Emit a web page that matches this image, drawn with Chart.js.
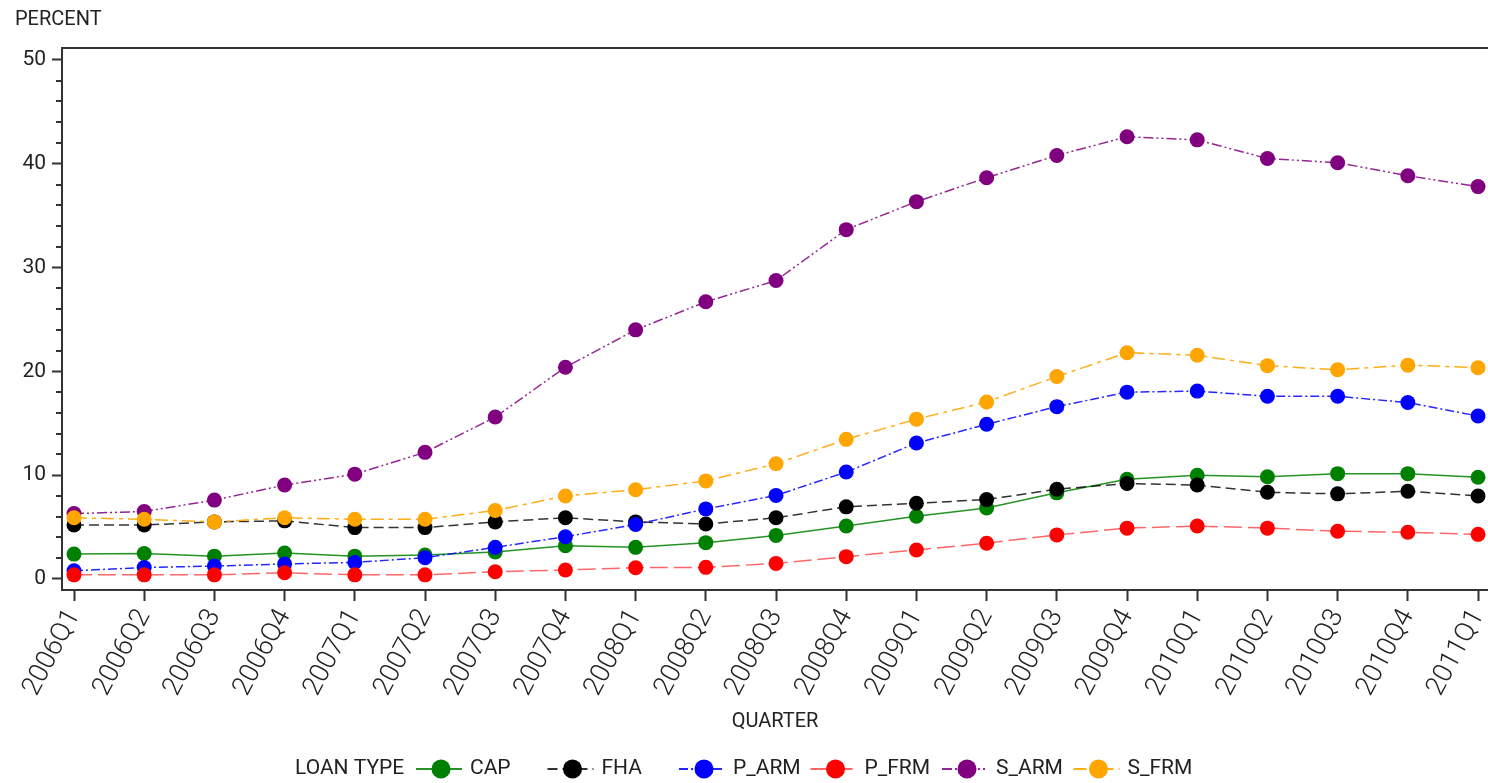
<!DOCTYPE html>
<html>
<head>
<meta charset="utf-8">
<title>Loan delinquency by type</title>
<script src="https://cdn.jsdelivr.net/npm/chart.js@4.4.1/dist/chart.umd.min.js"></script>
<style>
  html, body { margin: 0; padding: 0; background: #fff; }
  #wrap { width: 1488px; height: 783px; position: relative; }
</style>
</head>
<body>
<div id="wrap"><canvas id="c"></canvas></div>
<script>
// Quarterly percentages by loan type
const quarters = ["2006Q1","2006Q2","2006Q3","2006Q4","2007Q1","2007Q2","2007Q3","2007Q4",
  "2008Q1","2008Q2","2008Q3","2008Q4","2009Q1","2009Q2","2009Q3","2009Q4",
  "2010Q1","2010Q2","2010Q3","2010Q4","2011Q1"];

const cap   = [2.4, 2.45, 2.2, 2.5, 2.2, 2.3, 2.6, 3.2, 3.05, 3.5, 4.2, 5.1, 6.05, 6.85, 8.3, 9.6, 10.0, 9.85, 10.15, 10.15, 9.8];
const fha   = [5.2, 5.2, 5.5, 5.6, 4.95, 4.95, 5.5, 5.9, 5.5, 5.3, 5.9, 6.95, 7.3, 7.65, 8.65, 9.2, 9.05, 8.35, 8.2, 8.45, 8.0];
const pArm  = [0.8, 1.1, 1.25, 1.45, 1.6, 2.05, 3.05, 4.07, 5.25, 6.75, 8.05, 10.3, 13.1, 14.9, 16.6, 18.0, 18.1, 17.6, 17.6, 17.0, 15.7];
const pFrm  = [0.4, 0.4, 0.4, 0.6, 0.4, 0.4, 0.7, 0.87, 1.09, 1.12, 1.5, 2.15, 2.8, 3.45, 4.25, 4.9, 5.1, 4.9, 4.6, 4.5, 4.3];
const sArm  = [6.3, 6.5, 7.6, 9.05, 10.1, 12.2, 15.6, 20.4, 24.0, 26.7, 28.75, 33.65, 36.35, 38.65, 40.8, 42.6, 42.3, 40.5, 40.1, 38.85, 37.8];
const sFrm  = [5.9, 5.75, 5.5, 5.9, 5.75, 5.75, 6.6, 8.0, 8.6, 9.45, 11.1, 13.45, 15.4, 17.05, 19.5, 21.8, 21.55, 20.55, 20.15, 20.6, 20.35];

const yMajorTicks = [0, 10, 20, 30, 40, 50];

const FONT = "Roboto, 'Liberation Sans', Arial, sans-serif";
const TEXT = '#222';
const AXIS = '#333';

function series(label, values, color, lineColor, dash, order) {
  return {
    label,
    data: values.map((v, i) => ({ x: i, y: v })),
    borderColor: lineColor,
    backgroundColor: color,
    borderWidth: 1.5,
    borderDash: dash,
    pointRadius: 7.5,
    pointHoverRadius: 7.5,
    pointBorderWidth: 0,
    pointBackgroundColor: color,
    tension: 0,
    order
  };
}

const datasets = [
  series('CAP',   cap,  '#008000', 'rgba(0,128,0,0.85)',   [],                  6),
  series('FHA',   fha,  '#000000', 'rgba(0,0,0,0.8)',      [10, 5],             5),
  series('P_ARM', pArm, '#0000ff', 'rgba(0,0,255,0.85)',   [9, 3, 2, 3],        4),
  series('P_FRM', pFrm, '#ff0000', 'rgba(255,0,0,0.6)',    [18, 6],             3),
  series('S_ARM', sArm, '#800080', 'rgba(128,0,128,0.85)', [10, 3, 2, 3, 2, 3], 2),
  series('S_FRM', sFrm, '#ffa500', 'rgba(255,165,0,0.9)',  [13, 5, 4, 5],       1)
];

// Frame top edge and the short minor ticks on the value axis
const framePlugin = {
  id: 'frame',
  afterDraw(chart) {
    const { ctx, chartArea } = chart;
    const y = chart.scales.y;
    ctx.save();
    ctx.strokeStyle = AXIS;
    ctx.lineWidth = 2;
    ctx.beginPath();
    ctx.moveTo(chartArea.left - 1, chartArea.top);
    ctx.lineTo(chartArea.right, chartArea.top);
    ctx.stroke();
    for (let v = 2; v < 50; v += 2) {
      if (v % 10 === 0) continue;
      const py = Math.round(y.getPixelForValue(v));
      ctx.beginPath();
      ctx.moveTo(chartArea.left - 6, py);
      ctx.lineTo(chartArea.left, py);
      ctx.stroke();
    }
    ctx.restore();
  }
};

// Single-row legend with a leading caption
const legendPlugin = {
  id: 'loanLegend',
  afterDraw(chart) {
    const { ctx } = chart;
    const cy = 769;
    ctx.save();
    ctx.font = "21px " + FONT;
    ctx.fillStyle = TEXT;
    ctx.textBaseline = 'middle';
    ctx.textAlign = 'left';
    ctx.fillText('LOAN TYPE', 295, cy);
    chart.data.datasets.forEach((ds, i) => {
      const mx = 441 + i * 131.5;
      ctx.strokeStyle = ds.borderColor;
      ctx.lineWidth = 2;
      ctx.setLineDash(ds.borderDash);
      ctx.beginPath();
      ctx.moveTo(mx - 25, cy);
      ctx.lineTo(mx + 21, cy);
      ctx.stroke();
      ctx.setLineDash([]);
      ctx.fillStyle = ds.pointBackgroundColor;
      ctx.beginPath();
      ctx.arc(mx, cy, 9.5, 0, Math.PI * 2);
      ctx.fill();
      ctx.fillStyle = TEXT;
      ctx.fillText(ds.label, mx + 29, cy);
    });
    ctx.restore();
  }
};

new Chart(document.getElementById('c'), {
  type: 'line',
  data: { datasets },
  plugins: [framePlugin, legendPlugin],
  options: {
    responsive: true,
    maintainAspectRatio: false,
    animation: false,
    events: [],
    layout: { autoPadding: false, padding: { left: 15, right: 0, top: 0, bottom: 49 } },
    plugins: {
      legend: { display: false },
      tooltip: { enabled: false },
      title: {
        display: true,
        text: 'PERCENT',
        align: 'start',
        color: TEXT,
        font: { family: FONT, size: 20, weight: 'normal', lineHeight: 1.2 },
        padding: { top: 8, bottom: 16 }
      }
    },
    scales: {
      x: {
        type: 'linear',
        min: -0.171,
        max: 20.142,
        afterBuildTicks: axis => { axis.ticks = quarters.map((q, i) => ({ value: i })); },
        afterFit: axis => { axis.height = 144; axis.paddingRight = 0; },
        ticks: {
          autoSkip: false,
          minRotation: 62,
          maxRotation: 62,
          padding: 3,
          color: TEXT,
          font: { family: FONT, size: 27, weight: 300 },
          callback: v => quarters[v]
        },
        grid: { display: true, drawOnChartArea: false, tickLength: 11, tickColor: AXIS, tickWidth: 2 },
        border: { display: true, color: AXIS, width: 2 },
        title: {
          display: true,
          text: 'QUARTER',
          color: TEXT,
          font: { family: FONT, size: 20, lineHeight: 1.2 },
          padding: 0
        }
      },
      y: {
        type: 'linear',
        min: -1.06,
        max: 51.15,
        afterBuildTicks: axis => { axis.ticks = yMajorTicks.map(v => ({ value: v })); },
        afterFit: axis => { axis.width = 47; },
        ticks: {
          padding: 6,
          color: TEXT,
          font: { family: FONT, size: 21 }
        },
        grid: { display: true, drawOnChartArea: false, tickLength: 10, tickColor: AXIS, tickWidth: 2 },
        border: { display: true, color: AXIS, width: 2 }
      }
    }
  }
});
</script>
</body>
</html>
